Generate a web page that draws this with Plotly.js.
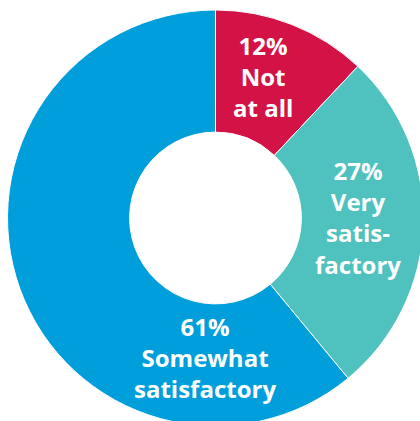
<!DOCTYPE html>
<html>
<head>
<meta charset="utf-8">
<script src="https://cdn.plot.ly/plotly-3.0.1.min.js"></script>
<style>
html,body{margin:0;padding:0;overflow:hidden;background:#fff;}
#chart{width:430px;height:430px;}
</style>
</head>
<body>
<div id="chart"></div>
<script>
var categories = ["Not at all", "Very satisfactory", "Somewhat satisfactory"];
var values = [12, 27, 61];
var displayLabels = ["Not<br>at all", "Very<br>satis-<br>factory", "Somewhat<br>satisfactory"];
var colors = ["#D31245", "#4FC1BE", "#009FDB"];

var W = 430, H = 430;
// label block centers in pixels
var labelPos = [[263, 77], [358, 217], [205, 357]];

var annotations = categories.map(function(c, i){
  return {
    text: values[i] + "%<br>" + displayLabels[i],
    x: labelPos[i][0] / W, y: 1 - labelPos[i][1] / H,
    xref: "paper", yref: "paper", xanchor: "center", yanchor: "middle",
    showarrow: false, align: "center",
    font: {family: "Open Sans, Lato, sans-serif", size: 24, color: "#ffffff", weight: 700}
  };
});

var trace = {
  type: "pie",
  labels: categories,
  values: values,
  hole: 0.413,
  sort: false,
  direction: "clockwise",
  rotation: 0,
  textinfo: "none",
  hoverinfo: "none",
  marker: {colors: colors, line: {color: "#ffffff", width: 1}},
  domain: {x: [7.5 / W, 423.5 / W], y: [1 - 426 / H, 1 - 10 / H]}
};

var layout = {
  width: W, height: H,
  margin: {l: 0, r: 0, t: 0, b: 0},
  showlegend: false,
  paper_bgcolor: "#ffffff",
  annotations: annotations
};

Plotly.newPlot("chart", [trace], layout, {displayModeBar: false, staticPlot: true});
</script>
</body>
</html>
